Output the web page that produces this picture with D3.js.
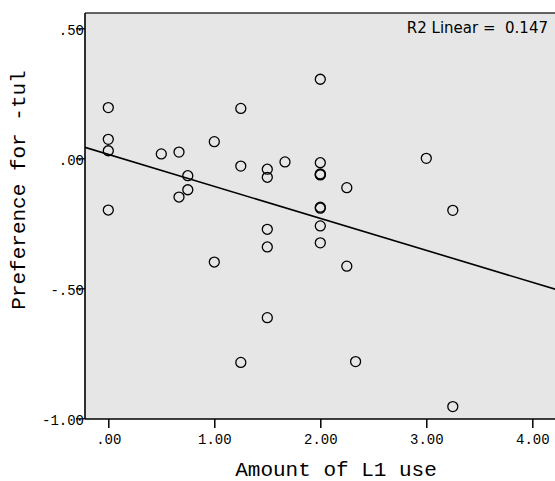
<!DOCTYPE html>
<meta charset="utf-8">
<style>
  body { margin: 0; background: #fff; }
  .tick text { font-family: "Courier New", "Liberation Mono", monospace; font-size: 14px; fill: #000; }
  .title { font-family: "Courier New", "Liberation Mono", monospace; font-size: 21px; fill: #000; }
  .dot { fill: none; stroke: #000; stroke-width: 1.3px; }
</style>
<svg width="555" height="481"></svg>
<script src="https://d3js.org/d3.v7.min.js"></script>
<script>
  // L1 use (x) and preference for -tul (y), one entry per respondent
  var l1Use = [0, 0, 0, 0, 0.5, 0.667, 0.667, 0.75, 0.75, 1.0, 1.0,
    1.25, 1.25, 1.25, 1.5, 1.5, 1.5, 1.5, 1.5, 1.667,
    2.0, 2.0, 2.0, 2.0, 2.0, 2.0, 2.0, 2.0, 2.0,
    2.25, 2.25, 2.333, 3.0, 3.25, 3.25];
  var preference = [0.195, 0.073, 0.029, -0.199, 0.017, 0.024, -0.149, -0.067, -0.121, 0.064, -0.399,
    0.192, -0.030, -0.785, -0.042, -0.073, -0.273, -0.341, -0.613, -0.014,
    0.304, -0.017, -0.060, -0.064, -0.188, -0.192, -0.260, -0.325, -0.062,
    -0.113, -0.415, -0.782, 0.0, -0.200, -0.955];

  var xTicks = [0, 1, 2, 3, 4];
  var yTicks = [0.5, 0, -0.5, -1];

  // fit line as shown on the chart
  var fitIntercept = 0.015;
  var fitSlope = -0.123;
  var rSquared = "0.147";

  var svg = d3.select("svg");

  var pLeft = 85, pTop = 13, pBottom = 419, pRight = 560;

  var x = d3.scaleLinear().domain([0, 4]).range([108.3, 532.3]);
  var y = d3.scaleLinear().domain([-1, 0.5]).range([418.3, 28.3]);

  var fmt = function(d) {
    return d3.format(".2f")(d).replace("\u2212", "-").replace(/^(-?)0\./, "$1.");
  };

  svg.append("rect")
    .attr("x", pLeft)
    .attr("y", pTop)
    .attr("width", pRight - pLeft)
    .attr("height", pBottom - pTop)
    .attr("fill", "#e6e6e6");

  // top border
  svg.append("line")
    .attr("x1", pLeft).attr("x2", pRight)
    .attr("y1", pTop).attr("y2", pTop)
    .attr("stroke", "#333").attr("stroke-width", 1.3);

  svg.append("defs").append("clipPath").attr("id", "plot")
    .append("rect")
    .attr("x", pLeft).attr("y", pTop)
    .attr("width", pRight - pLeft).attr("height", pBottom - pTop);

  var plot = svg.append("g").attr("clip-path", "url(#plot)");

  var x0 = x.invert(pLeft), x1 = x.invert(pRight);
  plot.append("line")
    .attr("x1", x(x0)).attr("y1", y(fitIntercept + fitSlope * x0))
    .attr("x2", x(x1)).attr("y2", y(fitIntercept + fitSlope * x1))
    .attr("stroke", "#000")
    .attr("stroke-width", 1.6);

  plot.selectAll("circle.dot")
    .data(l1Use)
    .enter().append("circle")
    .attr("class", "dot")
    .attr("cx", function(d) { return x(d); })
    .attr("cy", function(d, i) { return y(preference[i]); })
    .attr("r", 5);

  var xAxis = svg.append("g")
    .attr("transform", "translate(0," + pBottom + ")")
    .call(d3.axisBottom(x).tickValues(xTicks).tickFormat(fmt).tickSize(9).tickSizeOuter(0));
  xAxis.select(".domain").remove();
  xAxis.selectAll(".tick line").attr("stroke", "#000").attr("stroke-width", 1.5);
  xAxis.selectAll(".tick text").attr("y", 25).attr("dy", 0);

  var yAxis = svg.append("g")
    .attr("transform", "translate(" + pLeft + ",0)")
    .call(d3.axisLeft(y).tickValues(yTicks).tickFormat(fmt).tickSize(9).tickSizeOuter(0));
  yAxis.select(".domain").remove();
  yAxis.selectAll(".tick line").attr("stroke", "#000").attr("stroke-width", 1.3);
  yAxis.selectAll(".tick text").attr("x", -1).attr("dy", "0.45em");

  // axis lines
  svg.append("line")
    .attr("x1", pLeft).attr("x2", pLeft)
    .attr("y1", pTop).attr("y2", pBottom)
    .attr("stroke", "#000").attr("stroke-width", 1.6);
  svg.append("line")
    .attr("x1", pLeft).attr("x2", pRight)
    .attr("y1", pBottom).attr("y2", pBottom)
    .attr("stroke", "#000").attr("stroke-width", 1.6);

  svg.append("text")
    .attr("class", "title")
    .attr("x", 336)
    .attr("y", 476)
    .attr("text-anchor", "middle")
    .text("Amount of L1 use");

  svg.append("text")
    .attr("class", "title")
    .attr("transform", "translate(25,190) rotate(-90)")
    .attr("text-anchor", "middle")
    .text("Preference for -tul");

  svg.append("text")
    .attr("x", 548)
    .attr("y", 33)
    .attr("text-anchor", "end")
    .style("font-family", "Verdana, 'DejaVu Sans', sans-serif")
    .style("font-size", "15px")
    .attr("fill", "#000")
    .attr("xml:space", "preserve")
    .text("R2 Linear =  " + rSquared);
</script>
